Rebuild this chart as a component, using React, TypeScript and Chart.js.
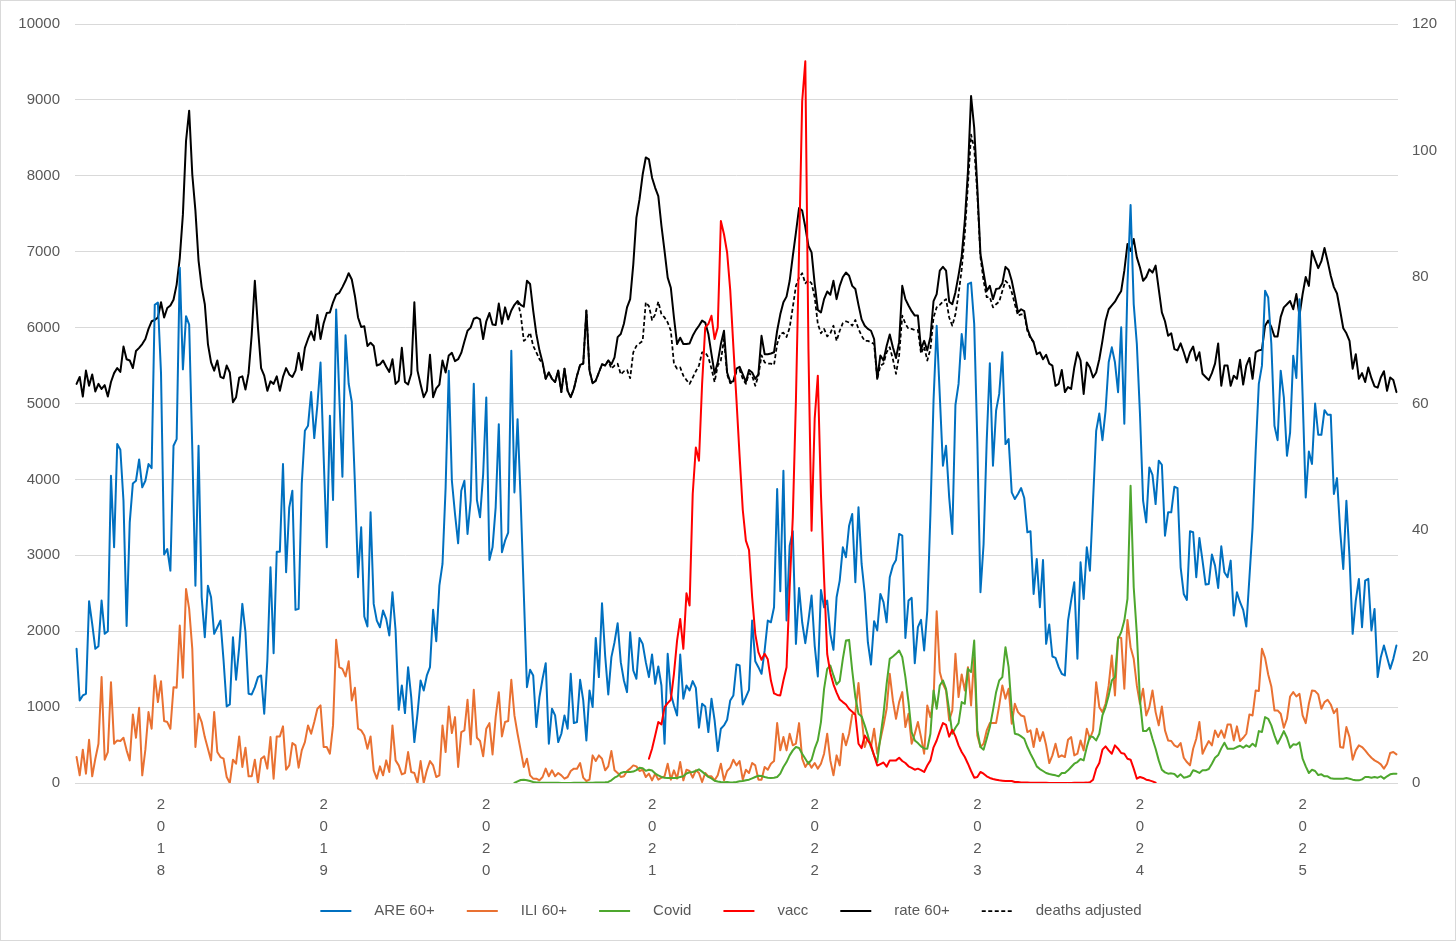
import React, { useEffect, useRef } from 'react';
import { Chart, registerables } from 'chart.js';

Chart.register(...registerables);

const FONT = "'Liberation Sans', Arial, sans-serif";
const TEXT_COLOR = '#595959';

// Weekly categories: ISO weeks starting 2017-W26
const START_YEAR = 2017;
const START_WEEK = 26;
const isoWeeksInYear: Record<number, number> = {
  2017: 52, 2018: 52, 2019: 52, 2020: 53, 2021: 52, 2022: 52, 2023: 52, 2024: 52, 2025: 52,
};

// ARE 60+ (left axis)
const areValues = [
  1768, 1088, 1154, 1175, 2395, 2096, 1768, 1803, 2404, 1965,
  2000, 4048, 3105, 4465, 4390, 3719, 2070, 3434, 3947, 3982,
  4263, 3895, 3982, 4202, 4149, 6300, 6330, 5400, 3010, 3083,
  2798, 4443, 4531, 6790, 5450, 6150, 6040, 4400, 2600, 4443,
  2447, 1921, 2600, 2447, 1965, 2052, 2140, 1614, 1009, 1035,
  1921, 1360, 1790, 2360, 1987, 1175, 1167, 1263, 1395, 1417,
  912, 1614, 2842, 1710, 3048, 3048, 4202, 2776, 3632, 3851,
  2281, 2294, 3940, 4640, 4706, 5150, 4544, 4980, 5540, 4300,
  3105, 4838, 3728, 6240, 5100, 4035, 5900, 5260, 5020, 3940,
  2710, 3368, 2193, 2061, 3566, 2360, 2140, 2052, 2272, 2162,
  1943, 2513, 2009, 965, 1285, 921, 1526, 1132, 539, 912,
  1351, 1219, 1417, 1526, 2281, 1868, 2600, 2886, 3895, 5430,
  3982, 3544, 3158, 3851, 3982, 3281, 3719, 5260, 3728, 3500,
  4070, 5080, 2939, 3105, 3632, 4728, 3040, 3193, 3300, 5696,
  3829, 4794, 3719, 2491, 1263, 1491, 1417, 737, 1132, 1373,
  1579, 517, 978, 890, 539, 649, 890, 715, 1439, 789,
  803, 1360, 1088, 561, 1219, 1000, 1912, 1395, 2368, 1680,
  1167, 1658, 1855, 2105, 1592, 1351, 1197, 1987, 1482, 1373,
  1912, 1833, 1592, 1395, 1693, 1307, 1535, 1285, 517, 1702,
  1175, 1022, 890, 1693, 1110, 1285, 1219, 1342, 1254, 728,
  1044, 1009, 671, 1110, 825, 421, 715, 759, 833, 1088,
  1154, 1561, 1548, 1035, 1132, 1228, 2140, 1605, 1526, 1439,
  1746, 2140, 2118, 2316, 3873, 2526, 4114, 2140, 3127, 3316,
  1833, 2570, 2118, 1842, 2140, 2469, 1811, 1404, 2544, 2316,
  2404, 1965, 1754, 2447, 2667, 3105, 2974, 3390, 3544, 2645,
  3632, 2886, 2500, 1855, 1561, 2132, 2009, 2491, 2382, 2118,
  2711, 2864, 2939, 3281, 3259, 1912, 2404, 2439, 1579, 2053,
  2149, 1746, 2272, 3544, 5040, 6025, 5100, 4180, 4443, 3763,
  3281, 4980, 5258, 5915, 5586, 6572, 6594, 6047, 4500, 2513,
  3149, 4509, 5530, 4180, 4907, 5126, 5674, 4465, 4531, 3829,
  3741, 3807, 3886, 3754, 3303, 3316, 2491, 2952, 2316, 2939,
  1833, 2088, 1667, 1649, 1526, 1439, 1417, 2140, 2404, 2645,
  1636, 2908, 2425, 3105, 2798, 3719, 4640, 4868, 4517, 4907,
  5543, 5740, 5543, 5148, 6003, 4732, 6572, 7615, 6310, 5784,
  4863, 3719, 3434, 4158, 4061, 3675, 4246, 4193, 3259, 3566,
  3566, 3903, 3886, 2842, 2491, 2412, 3316, 3303, 2711, 3228,
  2930, 2614, 2623, 3009, 2864, 2570, 3118, 2776, 2711, 2930,
  2206, 2513, 2382, 2281, 2061, 2711, 3368, 4377, 5258, 5499,
  6485, 6397, 5784, 4706, 4517, 5433, 5082, 4311, 4618, 5630,
  5337, 6375, 5100, 3763, 4368, 4202, 5000, 4588, 4588, 4912,
  4851, 4851, 3807, 4017, 3325, 2820, 3719, 2974, 1965, 2404,
  2689, 2053, 2667, 2689, 2009, 2294, 1395, 1658, 1811, 1658,
  1504, 1636, 1811,
];

// ILI 60+ (left axis)
const iliValues = [
  342, 101, 439, 123, 570, 88, 320, 518, 1395, 307,
  408, 1329, 518, 561, 553, 596, 430, 298, 904, 596,
  991, 101, 439, 934, 715, 1417, 1066, 1342, 816, 803,
  715, 1263, 1254, 2075, 1386, 2557, 2294, 1768, 474, 912,
  803, 605, 452, 298, 934, 408, 342, 320, 79, 0,
  307, 254, 614, 211, 465, 88, 88, 307, 0, 320,
  351, 189, 605, 57, 614, 614, 746, 175, 232, 526,
  496, 202, 430, 539, 759, 649, 803, 978, 1022, 474,
  474, 386, 759, 1886, 1526, 1504, 1404, 1605, 1088, 1254,
  715, 693, 627, 452, 614, 167, 57, 219, 101, 298,
  145, 759, 298, 232, 114, 132, 408, 145, 132, 0,
  289, 0, 167, 289, 232, 79, 101, 759, 408, 1009,
  658, 868, 211, 671, 693, 1097, 509, 1228, 596, 553,
  351, 715, 789, 377, 868, 1197, 614, 803, 816, 1360,
  890, 649, 430, 211, 320, 101, 57, 57, 35, 79,
  189, 88, 167, 88, 132, 101, 57, 79, 158, 189,
  189, 263, 70, 26, 44, 364, 289, 364, 320, 167,
  219, 421, 167, 132, 79, 88, 158, 189, 232, 219,
  158, 175, 79, 123, 35, 123, 44, 70, 88, 254,
  44, 167, 57, 276, 35, 175, 158, 70, 167, 132,
  13, 132, 88, 88, 35, 101, 254, 35, 158, 202,
  307, 232, 289, 44, 175, 132, 263, 232, 44, 44,
  211, 175, 254, 289, 789, 430, 605, 430, 649, 496,
  518, 789, 320, 211, 276, 202, 263, 189, 254, 386,
  649, 298, 101, 364, 232, 649, 496, 649, 904, 921,
  1316, 868, 474, 605, 474, 715, 386, 570, 759, 978,
  1439, 1088, 846, 1066, 1197, 737, 912, 518, 649, 803,
  605, 386, 1022, 868, 1088, 2263, 1461, 1307, 1219, 825,
  956, 1702, 1132, 1430, 1219, 1526, 1022, 1658, 627, 474,
  518, 693, 789, 789, 789, 1022, 1285, 1110, 1241, 781,
  1044, 934, 890, 877, 671, 693, 474, 715, 553, 671,
  496, 263, 364, 518, 342, 364, 342, 570, 605, 364,
  386, 561, 430, 715, 583, 693, 1329, 1000, 934, 1044,
  1285, 1680, 1154, 1921, 1912, 1241, 2149, 1790, 1636, 1285,
  1044, 1241, 890, 1000, 1219, 934, 759, 1009, 693, 561,
  553, 496, 474, 526, 333, 276, 232, 452, 583, 803,
  386, 474, 553, 496, 693, 605, 693, 596, 772, 772,
  561, 746, 553, 596, 649, 904, 890, 1219, 1211, 1768,
  1649, 1430, 1272, 956, 956, 912, 728, 846, 1140, 1197,
  1140, 1175, 890, 789, 1044, 1219, 1211, 1167, 978, 1066,
  1097, 1035, 921, 978, 474, 465, 737, 605, 307, 430,
  496, 474, 430, 377, 333, 298, 276, 246, 189, 254,
  395, 408, 377,
];

// Covid (left axis), starts at week index 140
const covidStart = 140;
const covidValues = [
  0, 22, 40, 44, 35, 26, 13, 8, 5, 4,
  3, 3, 2, 2, 2, 1, 1, 1, 1, 2,
  2, 3, 3, 3, 4, 4, 5, 6, 8, 10,
  14, 35, 70, 90, 132, 145, 145, 145, 150, 170,
  200, 195, 160, 175, 165, 125, 100, 80, 70, 65,
  66, 66, 66, 80, 90, 125, 140, 145, 160, 180,
  150, 115, 80, 60, 30, 20, 12, 10, 13, 8,
  9, 13, 22, 26, 35, 44, 61, 79, 96, 92,
  79, 70, 66, 70, 79, 123, 211, 276, 364, 430,
  474, 461, 386, 320, 254, 307, 452, 561, 803, 1241,
  1504, 1548, 1417, 1298, 1342, 1636, 1877, 1886, 1482, 1132,
  912, 877, 759, 627, 474, 364, 276, 605, 912, 1307,
  1636, 1667, 1702, 1746, 1658, 1395, 1066, 671, 561, 526,
  482, 456, 452, 649, 1219, 978, 1285, 1351, 1241, 956,
  649, 728, 789, 1066, 1044, 1504, 1461, 1877, 693, 474,
  439, 583, 737, 956, 1197, 1351, 1395, 1790, 1526, 956,
  649, 640, 614, 583, 474, 386, 307, 219, 184, 158,
  132, 118, 110, 101, 88, 132, 132, 167, 211, 254,
  276, 316, 298, 474, 614, 605, 561, 649, 890, 1000,
  1154, 1351, 1395, 1899, 1987, 2140, 2425, 3917, 2579, 1965,
  1088, 684, 684, 728, 583, 452, 298, 175, 140, 123,
  127, 118, 79, 114, 70, 79, 96, 167, 154, 132,
  167, 167, 184, 254, 333, 368, 456, 531, 452, 452,
  452, 474, 491, 465, 496, 474, 518, 482, 684, 671,
  868, 846, 759, 627, 518, 596, 684, 596, 465, 509,
  504, 535, 320, 219, 132, 175, 158, 105, 114, 88,
  88, 61, 57, 57, 57, 57, 66, 57, 44, 35,
  35, 48, 79, 79, 70, 79, 70, 88, 57, 88,
  114, 123, 123,
];

// vacc (left axis), starts at week index 183
const vaccStart = 183;
const vaccValues = [
  320, 452, 627, 803, 772, 1000, 1053,
  1097, 1439, 1877, 2162, 1768, 2500, 2338, 3807, 4421, 4246,
  5258, 6003, 6047, 6156, 5849, 6003, 7405, 7230, 6989, 6490,
  5750, 5040, 4300, 3600, 3193, 3070, 2450, 1965, 1724, 1623,
  1702, 1630, 1350, 1180, 1160, 1154, 1350, 1526, 2579, 3500,
  5040, 7010, 8982, 9508, 5720, 3325, 4800, 5367, 3800, 2700,
  1700, 1450, 1300, 1190, 1100, 1066, 1035, 975, 940, 900,
  517, 460, 627, 560, 500, 360, 230, 250, 270, 215,
  298, 298, 298, 333, 290, 263, 220, 200, 175, 189,
  170, 145, 230, 298, 470, 560, 680, 790, 765, 610,
  700, 614, 496, 408, 342, 254, 158, 70, 79, 145,
  123, 88, 66, 53, 44, 35, 31, 26, 26, 26,
  13, 13, 8, 6, 5, 4, 3, 3, 2, 2,
  2, 1, 1, 1, 1, 1, 1, 1, 1, 2,
  2, 2, 3, 5, 10, 44, 189, 263, 439, 482,
  430, 386, 496, 452, 395, 386, 320, 307, 189, 57,
  79, 66, 44, 35, 22, 4,
];

// rate 60+ (right axis)
const rateValues = [
  63.1, 64.2, 61.1, 65.2, 62.8, 64.6, 61.9, 63.1, 62.3, 62.9,
  61.1, 63.4, 64.8, 65.6, 65.0, 69.0, 67.0, 66.8, 65.6, 68.3,
  68.8, 69.4, 70.2, 71.8, 73.0, 73.2, 73.6, 76.0, 73.6, 75.1,
  75.5, 76.4, 78.8, 83.0, 89.9, 101.5, 106.3, 96.2, 90.5, 82.6,
  78.4, 75.7, 69.4, 66.5, 65.2, 66.8, 64.2, 64.0, 66.0, 64.9,
  60.2, 61.0, 64.1, 64.3, 62.2, 64.8, 70.9, 79.4, 72.0, 65.6,
  64.4, 62.0, 63.5, 63.1, 64.3, 62.0, 64.2, 65.6, 64.6, 64.2,
  65.2, 68.0, 65.3, 68.8, 70.2, 71.4, 70.0, 74.0, 70.2, 72.7,
  74.3, 74.4, 76.0, 77.2, 77.5, 78.4, 79.4, 80.6, 79.6, 77.0,
  73.6, 72.1, 72.2, 69.1, 69.6, 69.1, 66.0, 66.2, 66.8, 65.8,
  65.0, 67.0, 63.1, 63.6, 68.8, 63.4, 63.0, 64.7, 76.0, 65.2,
  63.0, 61.0, 62.0, 67.7, 61.0, 62.4, 63.0, 66.8, 64.9, 67.6,
  68.0, 66.7, 67.0, 68.0, 69.8, 71.5, 72.0, 73.4, 73.6, 73.3,
  70.2, 73.0, 74.3, 72.5, 72.4, 75.8, 72.6, 75.2, 73.3, 74.7,
  75.6, 76.2, 75.6, 75.3, 79.4, 78.9, 74.7, 71.0, 68.4, 66.5,
  63.9, 64.9, 63.9, 63.4, 65.2, 61.8, 65.5, 62.0, 61.0, 62.3,
  64.4, 66.1, 66.3, 74.7, 65.2, 63.2, 63.6, 64.9, 66.2, 66.0,
  66.8, 66.2, 67.3, 70.5, 71.0, 72.6, 75.2, 76.5, 82.0, 89.4,
  92.3, 96.2, 98.9, 98.6, 95.7, 94.1, 92.8, 88.1, 84.1, 79.9,
  78.3, 73.6, 69.4, 70.4, 69.4, 69.4, 69.5, 70.7, 71.6, 72.3,
  73.1, 72.8, 71.0, 67.8, 64.7, 66.5, 69.4, 71.5, 64.9, 63.4,
  63.5, 65.5, 65.8, 64.6, 63.4, 65.3, 64.9, 63.9, 64.6, 70.7,
  67.8, 67.8, 67.9, 68.1, 71.5, 74.1, 76.0, 76.9, 79.4, 83.3,
  87.0, 90.9, 90.5, 87.9, 84.9, 83.9, 78.9, 74.8, 74.4, 76.5,
  77.7, 77.2, 79.4, 76.5, 78.6, 80.0, 80.7, 80.2, 78.6, 78.1,
  75.6, 73.3, 72.3, 71.8, 71.5, 70.2, 63.9, 67.6, 66.8, 69.1,
  70.9, 68.9, 67.2, 69.7, 78.6, 76.5, 75.5, 74.6, 73.9, 73.9,
  68.6, 69.9, 68.4, 70.5, 76.2, 77.3, 81.0, 81.6, 81.0, 76.1,
  75.7, 77.6, 80.3, 83.3, 88.9, 96.7, 108.6, 103.6, 94.1, 83.6,
  80.7, 77.8, 78.6, 76.5, 78.1, 78.2, 79.0, 81.6, 81.1, 79.4,
  77.0, 74.4, 74.9, 74.6, 71.8, 70.5, 69.7, 67.8, 68.1, 67.0,
  67.7, 66.3, 66.0, 62.8, 63.1, 65.3, 61.8, 62.6, 62.3, 65.7,
  68.1, 66.8, 61.5, 66.5, 65.7, 64.1, 64.9, 67.0, 69.9, 73.1,
  74.9, 75.5, 76.1, 77.0, 77.8, 81.0, 85.2, 84.1, 86.0, 83.1,
  81.5, 79.4, 80.0, 81.2, 80.7, 81.8, 78.1, 74.4, 73.0, 70.7,
  71.1, 68.6, 68.4, 69.5, 68.1, 66.5, 68.1, 69.0, 66.8, 68.1,
  64.7, 64.2, 63.7, 64.8, 66.3, 69.5, 62.8, 66.0, 66.0, 62.8,
  64.4, 63.9, 66.9, 63.0, 66.0, 67.2, 63.9, 68.1, 68.4, 68.5,
  72.3, 73.1, 72.1, 70.6, 70.6, 73.7, 75.2, 75.7, 76.2, 74.9,
  77.3, 73.9, 77.3, 80.0, 78.6, 84.1, 82.7, 81.4, 82.5, 84.6,
  82.5, 80.2, 78.4, 77.4, 74.7, 71.9, 71.1, 69.9, 65.5, 67.8,
  63.9, 64.8, 63.4, 65.7, 64.0, 62.7, 62.5, 64.1, 65.1, 62.0,
  64.1, 63.7, 61.8,
];

// deaths adjusted (right axis), starts at week index 141
const deathsStart = 141;
const deathsValues = [
  76.2, 74.1, 69.9, 70.3, 71.2, 69.1, 68.1, 67.0, 66.3,
  63.9, 64.9, 63.9, 63.4, 65.2, 61.8, 65.5, 62.0, 61.0, 62.3,
  64.4, 66.1, 66.3, 74.7, 65.2, 63.2, 63.6, 64.9, 66.2, 66.0,
  66.8, 65.5, 66.0, 66.3, 64.6, 65.1, 65.3, 64.0, 68.1, 69.1,
  69.5, 69.9, 76.0, 75.4, 73.2, 74.1, 76.1, 74.1, 73.6, 72.8,
  71.5, 66.3, 65.5, 65.7, 64.4, 63.7, 63.1, 64.1, 65.1, 66.0,
  68.1, 68.1, 67.3, 65.5, 63.4, 66.0, 66.8, 70.2, 64.6, 63.2,
  63.4, 65.1, 65.3, 63.9, 63.1, 64.8, 64.4, 62.8, 64.4, 67.6,
  66.5, 66.3, 66.3, 66.1, 69.4, 71.0, 71.2, 70.5, 72.0, 75.2,
  78.6, 79.9, 80.6, 79.0, 79.5, 79.0, 76.8, 72.6, 71.1, 71.8,
  70.6, 71.1, 72.3, 69.9, 71.5, 72.7, 73.0, 72.8, 72.3, 73.2,
  71.8, 70.7, 69.9, 69.9, 69.7, 69.4, 63.9, 66.0, 66.3, 68.1,
  68.9, 67.0, 64.7, 67.6, 73.9, 72.6, 71.8, 71.8, 71.6, 71.6,
  67.9, 69.0, 66.8, 68.6, 73.6, 75.2, 75.6, 76.1, 76.5, 73.6,
  72.3, 74.1, 77.3, 81.2, 86.8, 94.6, 102.5, 100.4, 93.1, 83.1,
  79.4, 76.8, 76.8, 75.2, 75.7, 76.1, 77.8, 79.4, 78.9, 77.6,
  75.7, 73.9, 74.1, 74.1, 71.5, 70.3, 69.7,
];

const leftTicks = { min: 0, max: 10000, step: 1000 };
const rightTicks = { min: 0, max: 120, step: 20 };

function buildCategories(n: number): string[] {
  const out: string[] = [];
  let y = START_YEAR;
  let w = START_WEEK;
  for (let i = 0; i < n; i++) {
    out.push(`${y}-W${String(w).padStart(2, '0')}`);
    w++;
    if (w > isoWeeksInYear[y]) {
      w = 1;
      y++;
    }
  }
  return out;
}

function padSeries(start: number, values: number[], length: number): (number | null)[] {
  const out: (number | null)[] = new Array(length).fill(null);
  values.forEach((v, k) => {
    if (start + k < length) out[start + k] = v;
  });
  return out;
}

const bottomLegend = {
  id: 'bottomLegend',
  afterDraw(chart: any) {
    const ctx = chart.ctx as CanvasRenderingContext2D;
    const items = chart.data.datasets.map((ds: any) => ({
      text: ds.label as string,
      color: ds.borderColor as string,
      dash: (ds.borderDash || []) as number[],
      lw: ds.borderDash ? 1.75 : 2,
    }));
    ctx.save();
    ctx.font = `15px ${FONT}`;
    const lineW = 31;
    const gap = 23;
    const spacing = 32;
    const widths = items.map((it: any) => lineW + gap + ctx.measureText(it.text).width);
    const total = widths.reduce((a: number, b: number) => a + b, 0) + spacing * (items.length - 1);
    let x = 731 - total / 2;
    const y = 911;
    items.forEach((it: any, k: number) => {
      ctx.beginPath();
      ctx.setLineDash(it.dash);
      ctx.strokeStyle = it.color;
      ctx.lineWidth = it.lw;
      ctx.moveTo(x, y);
      ctx.lineTo(x + lineW, y);
      ctx.stroke();
      ctx.setLineDash([]);
      ctx.fillStyle = TEXT_COLOR;
      ctx.textBaseline = 'middle';
      ctx.textAlign = 'left';
      ctx.fillText(it.text, x + lineW + gap, y);
      x += widths[k] + spacing;
    });
    ctx.restore();
  },
};

export default function App() {
  const canvasRef = useRef<HTMLCanvasElement | null>(null);

  useEffect(() => {
    if (!canvasRef.current) return;
    const n = areValues.length;
    const categories = buildCategories(n);
    const covidSeries = padSeries(covidStart, covidValues, n);
    const vaccSeries = padSeries(vaccStart, vaccValues, n);
    const deathsSeries = padSeries(deathsStart, deathsValues, n);

    const common = {
      pointRadius: 0,
      pointHoverRadius: 0,
      tension: 0,
      fill: false,
      borderJoinStyle: 'round' as const,
      borderCapStyle: 'round' as const,
      spanGaps: false,
    };

    const chart = new Chart(canvasRef.current, {
      type: 'line',
      data: {
        labels: categories,
        datasets: [
          { ...common, label: 'ARE 60+', data: areValues, borderColor: '#0070C0', borderWidth: 2, yAxisID: 'y', order: 3 },
          { ...common, label: 'ILI 60+', data: iliValues, borderColor: '#E97132', borderWidth: 2, yAxisID: 'y', order: 2 },
          { ...common, label: 'Covid', data: covidSeries, borderColor: '#4EA72E', borderWidth: 2, yAxisID: 'y', order: 1 },
          { ...common, label: 'vacc', data: vaccSeries, borderColor: '#FF0000', borderWidth: 2, yAxisID: 'y', order: 0 },
          { ...common, label: 'rate 60+', data: rateValues, borderColor: '#000000', borderWidth: 2, yAxisID: 'y1', order: 4 },
          { ...common, label: 'deaths adjusted', data: deathsSeries, borderColor: '#000000', borderWidth: 1.75, borderDash: [4, 2.5], borderCapStyle: 'butt' as const, yAxisID: 'y1', order: 5 },
        ],
      },
      options: {
        responsive: false,
        animation: false,
        events: [],
        layout: { padding: { top: 22, left: 0, right: 0, bottom: 0 } },
        plugins: {
          legend: { display: false },
          tooltip: { enabled: false },
        },
        scales: {
          x: {
            type: 'category',
            offset: true,
            grid: { display: false, drawTicks: false },
            border: { display: false },
            ticks: {
              autoSkip: false,
              maxRotation: 0,
              minRotation: 0,
              padding: 11,
              color: TEXT_COLOR,
              font: { family: FONT, size: 15, lineHeight: 22 / 15 },
              callback: (_v: any, index: number) => {
                const lab = categories[index];
                return lab && lab.endsWith('-W01') ? lab.slice(0, 4).split('') : '';
              },
            },
            afterFit: (scale: any) => {
              scale.height = 158;
            },
          },
          y: {
            type: 'linear',
            position: 'left',
            min: leftTicks.min,
            max: leftTicks.max,
            grid: { color: '#D9D9D9', lineWidth: 1, drawTicks: false },
            border: { display: false },
            ticks: {
              stepSize: leftTicks.step,
              padding: 15,
              color: TEXT_COLOR,
              font: { family: FONT, size: 15 },
              callback: (v: any) => String(v),
            },
            afterFit: (scale: any) => {
              scale.width = 75;
            },
          },
          y1: {
            type: 'linear',
            position: 'right',
            min: rightTicks.min,
            max: rightTicks.max,
            grid: { display: false, drawTicks: false },
            border: { display: false },
            ticks: {
              stepSize: rightTicks.step,
              padding: 14,
              color: TEXT_COLOR,
              font: { family: FONT, size: 15 },
              callback: (v: any) => String(v),
            },
            afterFit: (scale: any) => {
              scale.width = 58;
            },
          },
        },
      },
      plugins: [bottomLegend],
    });

    return () => {
      chart.destroy();
    };
  }, []);

  return (
    <div
      style={{
        position: 'fixed',
        left: 0,
        top: 0,
        width: 1456,
        height: 941,
        background: '#ffffff',
      }}
    >
      <canvas ref={canvasRef} width={1456} height={941} style={{ width: 1456, height: 941, display: 'block' }} />
      <div
        style={{
          position: 'absolute',
          inset: 0,
          border: '1px solid #D9D9D9',
          boxSizing: 'border-box',
          pointerEvents: 'none',
        }}
      />
    </div>
  );
}
